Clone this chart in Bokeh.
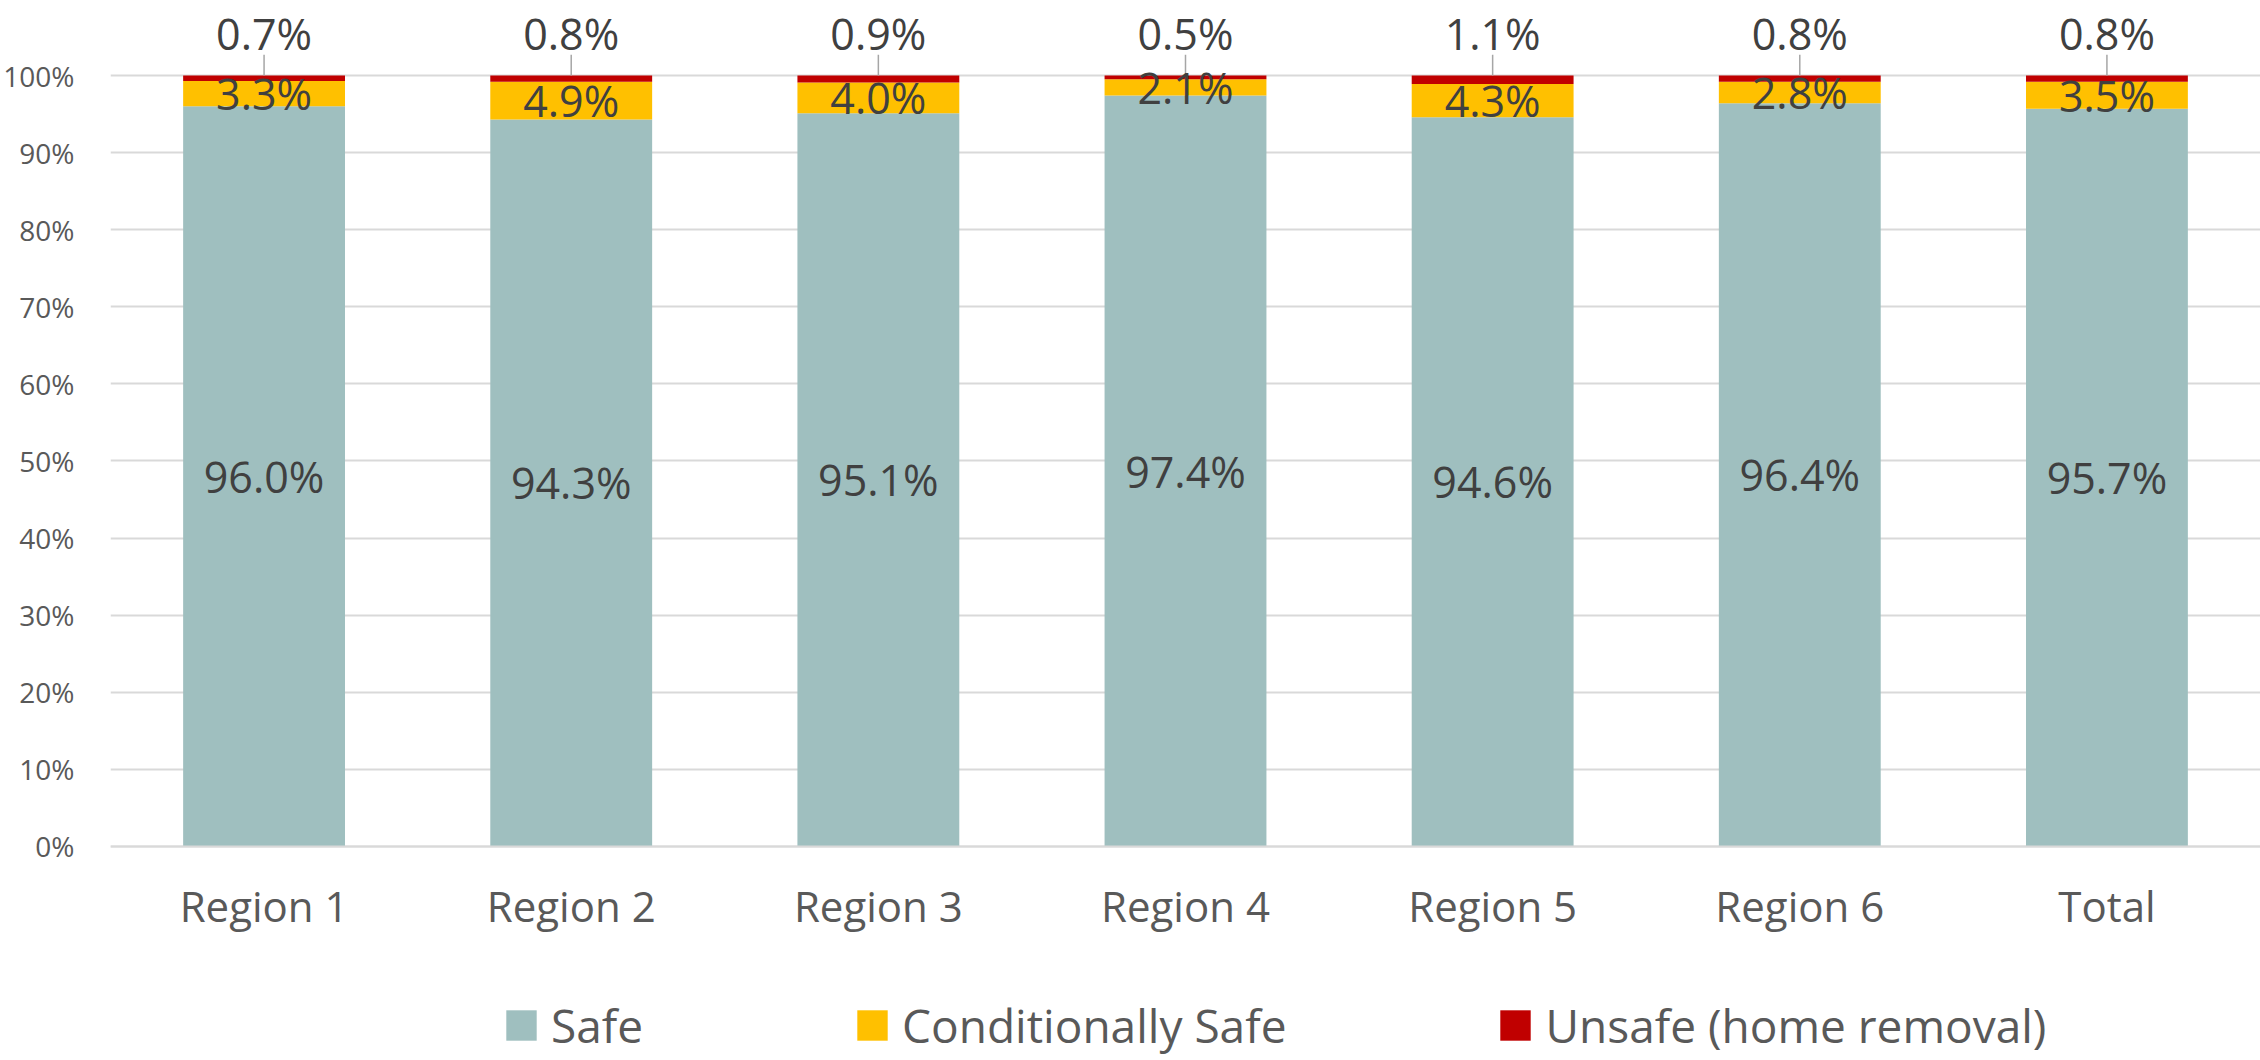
from bokeh.plotting import figure
from bokeh.models import ColumnDataSource, FactorRange, Range1d, Legend, LegendItem, PrintfTickFormatter, FixedTicker
from bokeh.core.properties import value
from bokeh.embed import file_html
from bokeh.resources import INLINE

categories = ["Region 1", "Region 2", "Region 3", "Region 4", "Region 5", "Region 6", "Total"]
safe = [96.0, 94.3, 95.1, 97.4, 94.6, 96.4, 95.7]
cond_safe = [3.3, 4.9, 4.0, 2.1, 4.3, 2.8, 3.5]
unsafe = [0.7, 0.8, 0.9, 0.5, 1.1, 0.8, 0.8]
series_names = ["Safe", "Conditionally Safe", "Unsafe (home removal)"]
colors = ["#9FBFBF", "#FFC000", "#C00000"]
y_ticks = [0, 10, 20, 30, 40, 50, 60, 70, 80, 90, 100]

FONT = "Open Sans"

src = ColumnDataSource(dict(
    cat=categories, safe=safe, cond=cond_safe, unsafe=unsafe,
    safe_lbl=[f"{v:.1f}%" for v in safe],
    cond_lbl=[f"{v:.1f}%" for v in cond_safe],
    unsafe_lbl=[f"{v:.1f}%" for v in unsafe],
    safe_y=[s / 2 for s in safe],
    cond_y=[s + c / 2 for s, c in zip(safe, cond_safe)],
    top=[s + c + u for s, c, u in zip(safe, cond_safe, unsafe)],
    top_lbl_y=[105.5] * len(categories),
    lead_y0=[102.7] * len(categories),
))

p = figure(x_range=FactorRange(*categories, range_padding=0), y_range=Range1d(-27.76, 109.73),
           width=2260, height=1060, output_backend="svg", toolbar_location=None,
           min_border_left=107, min_border_right=0, min_border_top=0, min_border_bottom=0)
p.outline_line_color = None

rs = p.vbar_stack(["safe", "cond", "unsafe"], x="cat", width=0.527, color=colors,
                  line_color=None, source=src)

# leader lines for Unsafe labels
p.segment(x0="cat", y0="lead_y0", x1="cat", y1="top", source=src,
          line_color="#A6A6A6", line_width=1.5)

txt = dict(text_font=value(FONT), text_font_size="43px", text_color="#404040",
           text_align="center", text_baseline="middle", source=src)
p.text(x="cat", y="safe_y", text="safe_lbl", **txt)
p.text(x="cat", y="cond_y", text="cond_lbl", **txt)
p.text(x="cat", y="top_lbl_y", text="unsafe_lbl", **txt)

# axes
p.yaxis.ticker = FixedTicker(ticks=y_ticks)
p.yaxis.formatter = PrintfTickFormatter(format="%d%%")
p.yaxis.axis_line_color = None
p.yaxis.major_tick_line_color = None
p.yaxis.minor_tick_line_color = None
p.yaxis.major_label_standoff = 30
p.yaxis.major_label_text_font = FONT
p.yaxis.major_label_text_font_size = "28px"
p.yaxis.major_label_text_color = "#595959"

p.xaxis.fixed_location = 0
p.xaxis.axis_line_color = "#D9D9D9"
p.xaxis.axis_line_width = 2
p.xaxis.major_tick_line_color = None
p.xaxis.minor_tick_line_color = None
p.xaxis.major_label_standoff = 25
p.xaxis.major_label_text_font = FONT
p.xaxis.major_label_text_font_size = "42px"
p.xaxis.major_label_text_color = "#595959"

p.xgrid.grid_line_color = None
p.ygrid.ticker = FixedTicker(ticks=y_ticks)
p.ygrid.grid_line_color = "#D9D9D9"
p.ygrid.grid_line_width = 2

legend = Legend(items=[LegendItem(label=n, renderers=[r]) for n, r in zip(series_names, rs)],
                orientation="horizontal", location=(392, 4),
                glyph_width=38, glyph_height=38, label_standoff=11, spacing=210,
                padding=0, margin=0, border_line_color=None, background_fill_alpha=0,
                label_text_font=FONT, label_text_font_size="46px", label_text_color="#595959")
p.add_layout(legend, "center")

open("out.html", "w").write(file_html(p, INLINE))
